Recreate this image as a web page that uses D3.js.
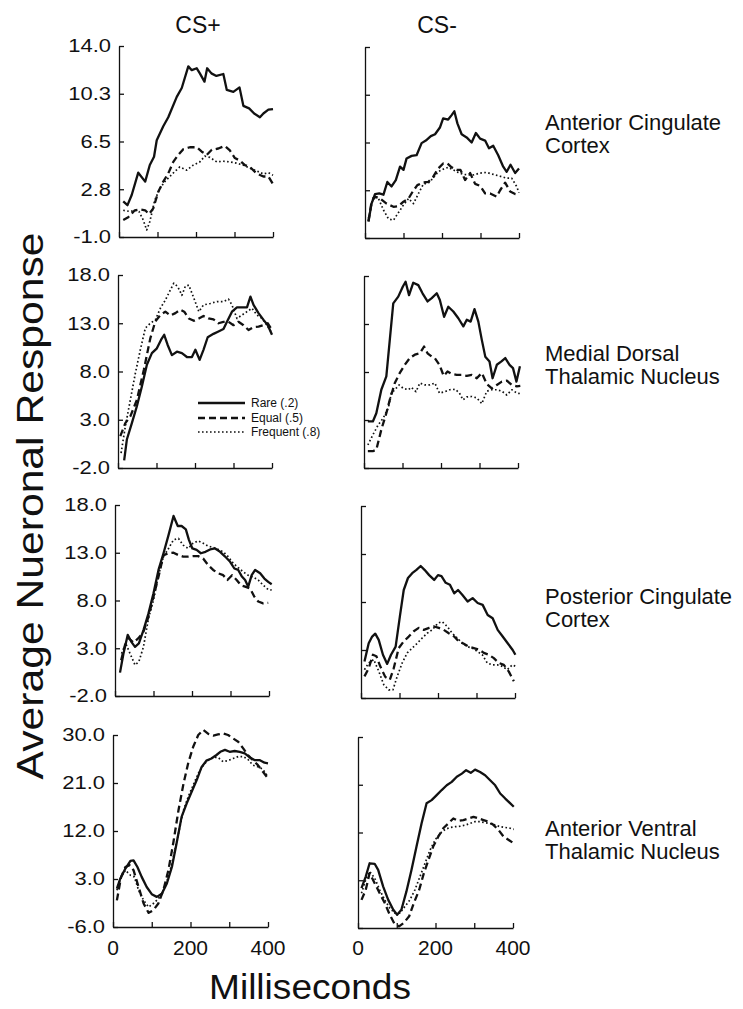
<!DOCTYPE html>
<html><head><meta charset="utf-8">
<script src="https://cdn.jsdelivr.net/npm/d3@7"></script>
<style>
html,body{margin:0;padding:0;background:#fff;}
svg{display:block;font-family:"Liberation Sans",Arial,Helvetica,sans-serif;}
</style></head>
<body>
<svg id="chart" width="743" height="1009"></svg>
<script>
// ---------- DATA (ms, average neuronal response) ----------
const acPlusRare = [[11,1.8],[22,1.5],[33,2.3],[50,4.05],[68,3.35],[80,4.65],[91,5.3],[98,6.6],[115,7.7],[128,8.4],[150,10.0],[163,10.7],[180,12.4],[189,12.1],[202,12.25],[210,11.85],[222,11.2],[229,12.25],[240,11.85],[253,11.65],[271,11.8],[280,10.55],[297,10.4],[313,10.75],[323,9.3],[338,9.1],[351,8.7],[366,8.4],[375,8.7],[388,9.0],[400,9.05]];
const acPlusEqual = [[11,0.33],[24,0.55],[41,1.1],[55,1.17],[68,1.1],[78,0.8],[89,1.25],[102,2.55],[115,3.35],[128,4.0],[141,4.9],[154,5.45],[167,5.9],[184,6.05],[202,6.05],[215,5.7],[228,5.45],[241,5.85],[258,5.95],[275,6.15],[288,5.8],[301,5.2],[314,5.0],[327,4.65],[340,4.5],[357,4.0],[375,3.75],[388,3.75],[400,3.15]];
const acPlusFreq = [[11,1.1],[29,1.0],[41,1.1],[52,1.0],[63,0.33],[72,-0.45],[80,0.2],[93,1.9],[106,2.8],[119,3.35],[132,3.75],[145,4.15],[158,4.5],[176,4.25],[193,4.65],[210,4.9],[223,5.35],[236,5.25],[254,4.9],[271,4.95],[288,4.9],[305,4.8],[323,4.65],[340,4.4],[357,4.2],[375,3.95],[388,4.05],[400,3.85]];

const acMinusRare = [[9,0.3],[17,1.7],[26,2.45],[37,2.5],[48,2.4],[58,3.4],[69,3.05],[80,3.55],[91,4.6],[100,4.35],[108,5.25],[121,5.45],[134,5.5],[147,6.45],[158,6.65],[171,7.0],[182,7.15],[195,7.7],[203,8.4],[216,8.3],[225,8.65],[232,8.95],[240,8.0],[251,7.15],[264,6.9],[277,6.5],[288,7.25],[299,6.8],[312,6.65],[322,6.05],[333,6.25],[346,5.5],[359,4.6],[368,4.2],[378,4.75],[390,4.1],[400,4.45]];
const acMinusEqual = [[9,0.3],[17,1.85],[26,2.25],[39,2.1],[56,1.7],[74,1.45],[87,1.5],[100,1.85],[113,2.1],[124,2.65],[136,3.15],[150,3.35],[164,3.4],[177,3.8],[190,4.45],[203,4.85],[214,4.85],[225,4.55],[238,4.35],[248,4.35],[260,3.55],[273,4.1],[286,3.25],[299,3.1],[312,2.5],[325,2.5],[342,2.25],[351,2.75],[364,3.35],[377,2.65],[390,2.45],[398,2.4]];
const acMinusFreq = [[9,0.55],[22,2.25],[35,2.1],[48,1.2],[61,0.5],[74,0.4],[87,1.0],[100,1.6],[113,2.1],[126,1.7],[139,2.5],[152,3.25],[164,3.3],[177,3.7],[190,4.2],[203,4.4],[216,4.55],[229,4.35],[242,4.15],[255,4.0],[268,3.95],[281,3.95],[299,4.1],[316,4.15],[333,4.0],[351,3.85],[368,3.7],[381,3.7],[394,3.05],[400,2.55]];

const mdPlusRare = [[16,-1.2],[23,0.95],[36,2.65],[49,4.4],[62,6.45],[75,8.7],[88,9.9],[101,10.4],[112,11.3],[120,11.8],[129,10.75],[140,9.7],[153,10.05],[166,9.9],[179,9.5],[192,9.5],[201,10.25],[212,9.2],[222,10.25],[233,11.55],[248,11.9],[261,12.15],[274,12.4],[283,13.15],[296,14.2],[309,14.65],[322,14.65],[335,14.65],[344,15.75],[352,14.9],[365,14.05],[378,13.35],[389,12.8],[400,11.8]];
const mdPlusEqual = [[6,1.3],[19,2.65],[32,3.35],[49,5.05],[67,8.15],[84,11.45],[97,13.2],[110,13.85],[123,14.2],[136,13.8],[149,14.05],[162,14.4],[172,14.2],[184,13.5],[197,13.25],[210,13.5],[222,13.75],[235,13.5],[248,13.4],[261,13.0],[274,13.15],[287,13.15],[300,12.8],[313,13.15],[326,12.8],[339,12.3],[352,12.6],[365,12.65],[378,12.8],[389,13.0],[400,12.3]];
const mdPlusFreq = [[8,-0.45],[19,2.3],[32,5.05],[45,7.8],[58,10.25],[71,12.5],[84,13.0],[97,13.35],[110,14.55],[123,15.4],[136,16.45],[145,17.15],[155,16.8],[166,15.9],[175,16.85],[184,16.95],[197,15.6],[210,14.2],[222,14.9],[240,15.05],[257,15.25],[274,15.25],[287,15.5],[296,14.9],[309,13.5],[322,13.85],[335,14.2],[348,14.55],[361,13.85],[374,13.5],[387,12.8],[397,12.15]];

const mdMinusRare = [[10,2.85],[23,2.85],[32,3.7],[45,6.15],[58,7.55],[67,11.35],[76,15.15],[89,15.85],[101,16.9],[108,17.4],[117,16.0],[128,17.3],[141,17.05],[152,16.2],[165,15.35],[176,15.7],[189,16.2],[197,15.5],[208,13.75],[219,14.8],[232,14.3],[245,13.6],[258,12.75],[267,13.45],[277,13.25],[287,14.55],[297,13.25],[306,11.35],[315,9.6],[326,9.1],[334,7.35],[345,8.75],[357,9.1],[367,9.45],[378,8.75],[387,8.4],[396,7.0],[405,8.6]];
const mdMinusEqual = [[10,-0.25],[23,-0.25],[32,-0.1],[45,2.0],[58,3.7],[67,5.1],[80,6.85],[93,7.9],[106,8.75],[119,9.45],[132,9.8],[145,9.95],[156,10.65],[165,9.95],[176,9.6],[184,9.45],[196,8.75],[207,7.6],[217,8.05],[228,7.8],[241,7.7],[254,7.7],[267,7.6],[280,7.7],[293,7.35],[306,7.9],[319,6.75],[332,6.3],[345,6.65],[358,7.0],[371,7.1],[384,6.65],[397,6.5],[406,6.55]];
const mdMinusFreq = [[10,0.4],[23,1.45],[37,2.5],[50,3.2],[63,4.25],[71,5.8],[80,6.15],[91,6.65],[102,6.3],[115,6.15],[123,6.4],[135,5.95],[145,6.85],[158,6.65],[171,6.65],[184,6.85],[196,5.8],[210,5.95],[223,6.15],[237,6.2],[248,5.8],[257,5.1],[267,5.4],[280,5.45],[293,5.3],[306,4.7],[319,6.0],[332,6.15],[345,6.15],[358,6.0],[371,5.6],[384,6.15],[397,5.8],[406,5.75]];

const pcPlusRare = [[13,0.45],[22,2.45],[33,4.4],[42,3.7],[52,3.15],[62,3.5],[74,4.9],[87,6.65],[100,8.75],[113,11.2],[126,12.95],[139,14.85],[152,16.85],[163,15.8],[173,15.8],[184,15.45],[192,14.35],[201,13.45],[212,13.3],[223,12.95],[235,13.1],[247,13.35],[260,13.45],[273,13.1],[286,12.6],[299,12.05],[310,11.35],[320,11.2],[329,10.55],[338,10.15],[346,9.45],[355,10.65],[364,11.2],[377,10.85],[388,10.3],[398,9.95],[407,9.7]];
const pcPlusEqual = [[16,1.75],[26,3.35],[36,4.05],[48,3.6],[61,4.05],[74,4.75],[87,6.3],[100,8.4],[113,10.5],[126,12.75],[139,12.95],[152,13.0],[165,12.75],[177,12.6],[190,12.6],[203,12.65],[216,12.65],[229,12.4],[242,11.7],[255,11.2],[268,10.85],[281,10.65],[292,10.15],[304,10.65],[316,10.15],[327,9.6],[338,9.45],[351,9.25],[362,8.4],[372,7.9],[385,7.7],[398,7.75]];
const pcPlusFreq = [[17,2.45],[28,3.5],[39,2.45],[52,1.25],[62,1.6],[74,3.15],[87,6.15],[100,8.05],[113,10.65],[126,12.6],[139,13.45],[152,14.35],[165,14.5],[177,13.8],[190,13.45],[203,14.0],[216,14.25],[229,14.0],[242,13.7],[255,13.55],[268,13.35],[281,13.1],[294,12.6],[307,11.9],[320,11.45],[333,11.0],[346,10.65],[359,10.45],[372,10.15],[385,9.6],[398,9.15],[407,9.1]];

const pcMinusRare = [[9,1.8],[20,3.7],[29,4.4],[37,4.7],[46,4.05],[57,2.5],[68,1.55],[78,2.5],[90,3.35],[101,6.5],[111,9.25],[122,10.5],[133,11.0],[144,11.35],[155,11.75],[165,11.35],[177,10.8],[190,10.3],[200,10.8],[209,10.7],[220,10.0],[231,9.8],[242,8.9],[252,9.25],[263,8.75],[277,8.05],[290,8.4],[303,7.9],[316,7.7],[329,6.65],[342,6.3],[355,5.1],[368,4.4],[381,3.7],[394,3.0],[401,2.5]];
const pcMinusEqual = [[9,0.25],[20,1.1],[31,2.5],[40,2.35],[50,1.3],[63,0.2],[75,-0.1],[85,1.1],[98,3.2],[111,3.9],[124,4.4],[137,4.95],[150,5.3],[163,5.1],[177,5.3],[190,5.45],[202,5.3],[215,5.1],[228,4.75],[242,4.4],[254,3.9],[267,3.65],[280,3.35],[293,3.2],[306,3.05],[319,2.7],[332,2.5],[345,2.15],[358,1.65],[371,1.45],[384,0.75],[397,-0.25]];
const pcMinusFreq = [[9,0.95],[20,1.65],[33,2.0],[46,0.8],[59,-0.6],[72,-1.15],[83,-1.15],[94,0.25],[107,1.65],[120,2.7],[133,3.2],[146,3.7],[159,4.25],[172,4.75],[185,5.1],[200,5.8],[211,5.95],[224,5.45],[237,4.75],[250,4.25],[263,3.7],[276,3.35],[289,3.2],[302,2.85],[315,2.5],[328,1.65],[341,1.45],[354,1.45],[367,1.3],[380,0.95],[393,1.45],[402,1.3]];

const avPlusRare = [[10,1.2],[19,3.1],[32,4.95],[45,6.4],[53,6.5],[63,5.25],[74,3.4],[87,1.5],[100,0.15],[113,-0.35],[126,0.25],[139,2.15],[152,5.25],[164,9.65],[177,14.65],[190,17.15],[203,19.35],[216,21.55],[228,23.9],[241,25.2],[254,25.6],[267,26.25],[277,26.85],[289,27.2],[301,26.85],[314,27.0],[327,26.85],[340,26.55],[353,25.8],[365,25.3],[378,25.3],[391,24.8],[400,24.7]];
const avPlusEqual = [[10,-1.0],[21,3.4],[32,5.25],[43,5.6],[53,4.65],[66,1.5],[79,-1.6],[92,-3.35],[104,-2.85],[117,-1.6],[130,0.9],[143,4.65],[156,9.95],[169,15.9],[182,20.9],[194,24.7],[207,27.8],[220,30.0],[233,30.95],[246,30.2],[259,29.9],[271,30.1],[284,30.3],[297,30.0],[310,29.35],[323,28.75],[336,27.5],[348,26.25],[361,25.3],[374,24.35],[387,23.1],[397,22.15]];
const avPlusFreq = [[10,0.9],[21,3.4],[32,4.65],[45,3.7],[55,3.4],[66,0.9],[79,-1.0],[92,-2.25],[104,-1.6],[117,-0.7],[130,0.9],[143,3.4],[156,7.15],[169,11.55],[182,15.9],[194,18.4],[207,20.6],[220,22.8],[233,24.35],[246,25.3],[259,25.8],[271,25.8],[284,25.0],[297,25.2],[310,25.6],[323,25.95],[336,25.95],[348,25.45],[361,24.35],[374,24.05],[387,23.55],[397,22.5]];

const avMinusRare = [[9,1.5],[20,3.7],[30,6.2],[43,6.1],[52,4.95],[65,1.8],[78,-0.7],[91,-2.55],[101,-3.5],[112,-2.55],[125,0.9],[138,4.95],[151,9.35],[164,13.7],[177,17.5],[190,18.1],[203,19.05],[216,20.0],[229,20.9],[242,21.55],[255,22.5],[268,23.1],[279,23.75],[291,23.25],[302,23.85],[315,23.4],[328,22.8],[341,21.85],[354,20.9],[367,19.35],[380,18.4],[393,17.5],[402,16.85]];
const avMinusEqual = [[9,-0.7],[20,1.2],[30,4.35],[43,2.45],[56,0.55],[69,-1.3],[82,-3.5],[94,-5.2],[106,-5.7],[118,-5.05],[132,-3.8],[144,-1.3],[158,1.2],[170,4.35],[182,6.85],[194,9.35],[207,11.2],[220,12.8],[233,13.7],[246,14.65],[259,14.2],[272,14.35],[285,14.65],[298,14.95],[311,14.65],[324,14.35],[337,14.05],[350,13.4],[363,12.45],[376,11.2],[389,10.6],[402,9.95]];
const avMinusFreq = [[9,0.55],[20,3.1],[30,4.65],[43,3.4],[56,1.2],[69,-0.7],[82,-2.25],[95,-3.2],[108,-3.2],[121,-1.95],[134,-0.7],[147,1.2],[160,3.7],[173,6.2],[186,8.7],[199,10.6],[212,11.85],[225,12.6],[238,12.95],[251,13.1],[264,13.2],[277,13.4],[289,13.7],[302,14.05],[315,14.05],[328,13.85],[341,13.7],[354,13.4],[367,13.1],[380,12.95],[393,12.8],[402,12.6]];

// ---------- LABELS / TICKS ----------
const columnTitles = ["CS+", "CS-"];
const regionNames = [["Anterior Cingulate","Cortex"],["Medial Dorsal","Thalamic Nucleus"],["Posterior Cingulate","Cortex"],["Anterior Ventral","Thalamic Nucleus"]];
const yDomains = [[-1,14],[-2,18],[-2,18],[-6,30]];
const yTickValues = [[-1,2.75,6.5,10.25,14],[-2,3,8,13,18],[-2,3,8,13,18],[-6,3,12,21,30]];
const yTickLabels = [["-1.0","2.8","6.5","10.3","14.0"],["-2.0","3.0","8.0","13.0","18.0"],["-2.0","3.0","8.0","13.0","18.0"],["-6.0","3.0","12.0","21.0","30.0"]];
const xTickValues = [0,100,200,300,400];
const xTickLabelValues = [0,200,400];
const seriesNames = ["Rare (.2)","Equal (.5)","Frequent (.8)"];
const yTitle = "Average Nueronal Response";
const xTitle = "Milliseconds";

const panelData = [
  [[acPlusRare,acPlusEqual,acPlusFreq],[acMinusRare,acMinusEqual,acMinusFreq]],
  [[mdPlusRare,mdPlusEqual,mdPlusFreq],[mdMinusRare,mdMinusEqual,mdMinusFreq]],
  [[pcPlusRare,pcPlusEqual,pcPlusFreq],[pcMinusRare,pcMinusEqual,pcMinusFreq]],
  [[avPlusRare,avPlusEqual,avPlusFreq],[avMinusRare,avMinusEqual,avMinusFreq]]
];

// ---------- LAYOUT ----------
const frames = [
  [{x0:119,x1:273,y0:46,y1:237},{x0:365,x1:519,y0:47,y1:238}],
  [{x0:118,x1:272,y0:275,y1:468},{x0:364,x1:518,y0:276,y1:468}],
  [{x0:115,x1:269,y0:505,y1:696},{x0:361,x1:515,y0:506,y1:698}],
  [{x0:113,x1:268,y0:735,y1:927},{x0:358,x1:513,y0:737,y1:928}]
];
const regionLabelBaselines = [[130,153],[361,384],[604,627],[836,859]];
const styles = [
  {w:2.3, dash:null},
  {w:2.3, dash:"7,4"},
  {w:1.7, dash:"1.6,2.4"}
];

const svg = d3.select("#chart");
svg.append("rect").attr("width",743).attr("height",1009).attr("fill","#fff");

panelData.forEach((row, r) => {
  row.forEach((series, c) => {
    const f = frames[r][c];
    const x = d3.scaleLinear().domain([0,400]).range([f.x0,f.x1]);
    const y = d3.scaleLinear().domain(yDomains[r]).range([f.y1,f.y0]);
    const g = svg.append("g");

    g.append("g").attr("transform",`translate(${f.x0},0)`)
      .call(d3.axisLeft(y).tickValues(yTickValues[r]).tickSize(-5).tickSizeOuter(0).tickFormat(""))
      .call(s => { s.selectAll("path,line").attr("stroke","#111").attr("stroke-width",1.3); });
    g.append("g").attr("transform",`translate(0,${f.y1})`)
      .call(d3.axisBottom(x).tickValues(xTickValues).tickSize(-5).tickSizeOuter(0).tickFormat(""))
      .call(s => { s.selectAll("path,line").attr("stroke","#111").attr("stroke-width",1.3); });

    if (c === 0) {
      yTickValues[r].forEach((v,i) => {
        g.append("text")
          .attr("transform",`translate(${f.x0-8},${y(v)}) scale(1.22,1)`)
          .attr("text-anchor","end").attr("dominant-baseline","central")
          .attr("font-size",18).attr("fill","#111")
          .text(yTickLabels[r][i]);
      });
    }
    if (r === 3) {
      xTickLabelValues.forEach(v => {
        g.append("text").attr("x",x(v)).attr("y",955)
          .attr("text-anchor","middle").attr("font-size",21).attr("fill","#111")
          .text(String(v));
      });
    }

    const line = d3.line().x(d => x(d[0])).y(d => y(d[1]));
    series.forEach((s,i) => {
      g.append("path").datum(s).attr("d",line)
        .attr("fill","none").attr("stroke","#111")
        .attr("stroke-width",styles[i].w)
        .attr("stroke-linejoin","round")
        .attr("stroke-dasharray",styles[i].dash);
    });
  });
  regionNames[r].forEach((t,i) => {
    svg.append("text").attr("x",545).attr("y",regionLabelBaselines[r][i])
      .attr("font-size",22).attr("fill","#111").text(t);
  });
});

[198,437].forEach((cx,i) => {
  svg.append("text").attr("x",cx).attr("y",33).attr("text-anchor","middle")
    .attr("font-size",23).attr("fill","#111").text(columnTitles[i]);
});

const legY = [403,418,432];
seriesNames.forEach((n,i) => {
  svg.append("line").attr("x1",198).attr("x2",245).attr("y1",legY[i]).attr("y2",legY[i])
    .attr("stroke","#111").attr("stroke-width",styles[i].w).attr("stroke-dasharray",styles[i].dash);
  svg.append("text").attr("x",251).attr("y",legY[i]).attr("dominant-baseline","central")
    .attr("font-size",12).attr("fill","#111").text(n);
});

svg.append("text").attr("transform","translate(43,506) rotate(-90)")
  .attr("text-anchor","middle").attr("font-size",36).attr("fill","#111")
  .attr("textLength",547).attr("lengthAdjust","spacingAndGlyphs").text(yTitle);
svg.append("text").attr("x",310).attr("y",999).attr("text-anchor","middle")
  .attr("font-size",35).attr("fill","#111")
  .attr("textLength",202).attr("lengthAdjust","spacingAndGlyphs").text(xTitle);
</script>
</body></html>
